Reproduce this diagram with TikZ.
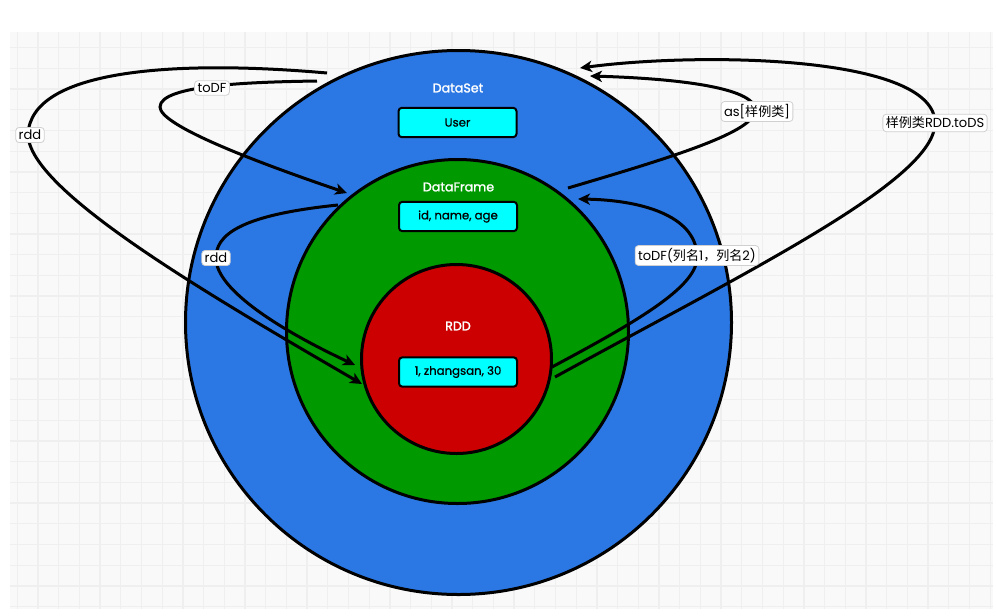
\documentclass[tikz,border=0pt]{standalone}
\usepackage{fontspec}
\setmainfont{Poppins}
\newfontfamily\heavy{Poppins}[FakeBold=1.6]
\newfontfamily\medium{Poppins}[FakeBold=0.8]
\newfontfamily\cjk{Noto Sans CJK SC}
\usetikzlibrary{shapes.geometric,arrows.meta}
\definecolor{gridbg}{HTML}{F9F9F9}
\definecolor{gridline}{HTML}{EFEFEF}
\definecolor{dsblue}{HTML}{2B78E4}
\definecolor{dfgreen}{HTML}{009900}
\definecolor{rddred}{HTML}{CC0000}
\definecolor{boxcyan}{HTML}{00FFFF}
\definecolor{tagborder}{HTML}{D0D0D0}
\tikzset{
  ring/.style={ellipse, draw=black, line width=2.25pt, inner sep=0pt},
  title/.style={text=white, font=\heavy\fontsize{9.5}{11}\selectfont},
  record/.style={draw=black, fill=boxcyan, line width=1.5pt, rounded corners=2.5pt,
    minimum width=88.5pt, minimum height=22pt, inner sep=0pt, font=\medium\fontsize{8.8}{10}\selectfont},
  conv/.style={line width=2.25pt, -{Stealth[length=9pt,width=8.5pt,inset=2.5pt]}},
  tag/.style={fill=white, draw=tagborder, line width=0.6pt, rounded corners=2.5pt,
    inner xsep=2.2pt, inner ysep=2pt, font=\fontsize{9.8}{11}\selectfont}
}
\begin{document}
\begin{tikzpicture}[x=0.75pt,y=-0.75pt]
\useasboundingbox (0,0) rectangle (996,615);
% canvas grid
\fill[gridbg] (10,32) rectangle (993,609);
\foreach \k in {0,...,47} \draw[gridline, line width=1pt] ({17.3+\k*20.7},32) -- ({17.3+\k*20.7},609);
\foreach \k in {0,...,27} \draw[gridline, line width=1pt] (10,{47.7+\k*20.7}) -- (993,{47.7+\k*20.7});

% nested sets
\node[ring, fill=dsblue, minimum width=409.5pt, minimum height=408pt] (ds) at (458.5,322.5) {};
\node[ring, fill=dfgreen, minimum width=256.5pt, minimum height=258pt] (df) at (457.5,331.5) {};
\node[ring, fill=rddred, minimum width=142.5pt, minimum height=141.75pt] (rdd) at (456.5,359) {};

\node[title] (dsname) at (458,88) {DataSet};
\node[title] (dfname) at (458.5,187) {DataFrame};
\node[title] (rddname) at (458,326) {RDD};

\node[record] (user) at (457.5,122.5) {User};
\node[record] (cols) at (458,216.5) {id, name, age};
\node[record] (row) at (458,372) {1, zhangsan, 30};

% conversion end points
\coordinate (rddA) at (327,73);
\coordinate (rddAend) at (362,384);
\coordinate (todfA) at (317,81);
\coordinate (todfAend) at (347,193);
\coordinate (rddB) at (338,205);
\coordinate (rddBend) at (355,365);
\coordinate (asA) at (568,188);
\coordinate (asAend) at (590,76);
\coordinate (tods) at (555,377);
\coordinate (todsend) at (580,68);
\coordinate (todfB) at (552,367);
\coordinate (todfBend) at (578,199);

% conversions
\draw[conv] (rddA) .. controls (180,60) and (30,68) .. (28,135) .. controls (30,190) and (200,290) .. (rddAend);
\draw[conv] (todfA) .. controls (250,82) and (160,85) .. (160,107) .. controls (160,125) and (250,160) .. (todfAend);
\draw[conv] (rddB) .. controls (240,215) and (215,235) .. (216,259) .. controls (217,290) and (280,330) .. (rddBend);
\draw[conv] (asA) .. controls (680,155) and (760,130) .. (755,108) .. controls (750,85) and (660,78) .. (asAend);
\draw[conv] (tods) .. controls (750,270) and (935,180) .. (935,123) .. controls (935,55) and (700,52) .. (todsend);
\draw[conv] (todfB) .. controls (640,320) and (700,285) .. (697,255) .. controls (695,215) and (640,200) .. (todfBend);

% conversion labels
\node[tag] (t1) at (30,135) {rdd};
\node[tag] (t2) at (212,88) {toDF};
\node[tag] (t3) at (216,258) {rdd};
\node[tag] (t4) at (757,111.5) {as[{\cjk 样例类}]};
\node[tag] (t5) at (935,123) {{\cjk 样例类}RDD.toDS};
\node[tag] (t6) at (697,255.5) {toDF({\cjk 列名}1{\cjk ，列名}2)};
\end{tikzpicture}
\end{document}
